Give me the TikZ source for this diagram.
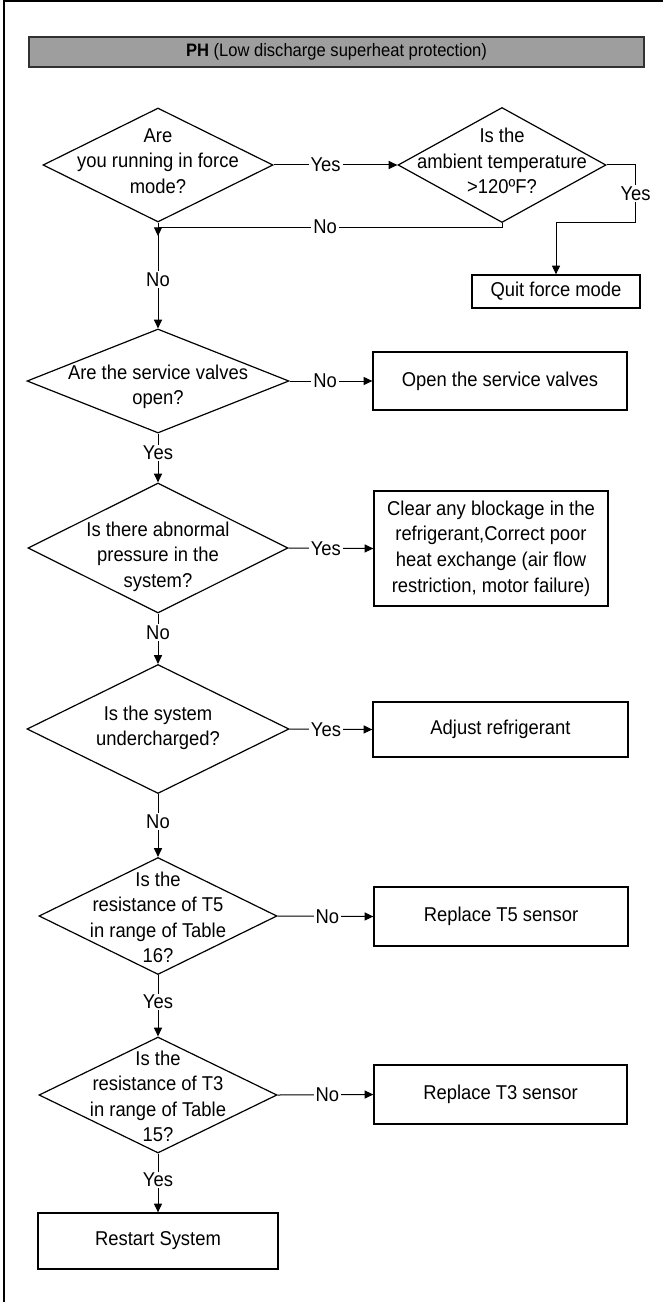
\documentclass[tikz,border=0pt]{standalone}
\usepackage{fontspec}
\setmainfont{Liberation Sans}[FakeStretch=0.92]
\usetikzlibrary{shapes.geometric,arrows.meta}
\definecolor{barfill}{RGB}{158,158,158}
\definecolor{bardraw}{RGB}{50,50,50}
\begin{document}
\begin{tikzpicture}[x=0.75pt,y=-0.75pt,
  every node/.style={font=\fontsize{15pt}{19.2pt}\selectfont, inner sep=0pt},
  dia/.style 2 args={draw,line width=0.9pt,diamond,minimum width={#1*0.75pt},minimum height={#2*0.75pt}},
  box/.style 2 args={draw,line width=1pt,rectangle,minimum width={#1*0.75pt},minimum height={#2*0.75pt},align=center},
  conn/.style={line width=0.75pt,-{Triangle[length=6.5pt,width=6pt]}},
  plain/.style={line width=0.75pt},
  lbl/.style={fill=white,inner xsep=1.5pt,inner ysep=1pt},
  dtext/.style={align=center}]

\useasboundingbox (0,0) rectangle (663,1302);
\draw[line width=1pt] (4,1302) -- (4,1) -- (663,1);

\node[draw=bardraw,fill=barfill,line width=1pt,minimum width={615*0.75pt},minimum height={30*0.75pt}] (title) at (336.5,52)
  {\fontsize{13.5pt}{16pt}\selectfont\textbf{PH} (Low discharge superheat protection)};

% decisions
\node[dia={230}{114}, label={[dtext,yshift=3pt]center:{Are\\you running in force\\mode?}}] (d1) at (158,165) {};
\node[dia={208}{115}, label={[dtext,yshift=3pt]center:{Is the\\ambient temperature\\>120ºF?}}] (d2) at (502,165) {};
\node[dia={262}{104}, label={[dtext,yshift=-4.5pt]center:{Are the service valves\\open?}}] (d3) at (158,381) {};
\node[dia={260}{130}, label={[dtext,yshift=-6.5pt]center:{Is there abnormal\\pressure in the\\system?}}] (d4) at (158,548) {};
\node[dia={262}{129}, label={[dtext,yshift=1pt]center:{Is the system\\undercharged?}}] (d5) at (158,729) {};
\node[dia={238}{117}, label={[dtext,yshift=-1pt]center:{Is the\\resistance of T5\\in range of Table\\16?}}] (d6) at (158,916) {};
\node[dia={238}{116}, label={[dtext,yshift=-1pt]center:{Is the\\resistance of T3\\in range of Table\\15?}}] (d7) at (158,1095) {};

% actions
\node[box={168}{33}] (quit) at (556,291.5) {Quit force mode};
\node[box={254}{58}] (open) at (500,381) {Open the service valves};
\node[box={234}{115}] (clear) at (491,548.5) {Clear any blockage in the\\refrigerant,Correct poor\\heat exchange (air flow\\restriction, motor failure)};
\node[box={255}{55}] (adjust) at (500.5,729.5) {Adjust refrigerant};
\node[box={254}{59}] (t5) at (501,916.5) {Replace T5 sensor};
\node[box={253}{59}] (t3) at (500.5,1094.5) {Replace T3 sensor};
\node[box={240}{56}] (restart) at (158,1241) {Restart System};

% connectors
\draw[conn] (d1.east) -- node[lbl,pos=0.42]{Yes} (d2.west);
\draw[conn] (d2.east) -- ++(29,0) -- node[lbl]{Yes} ++(0,57) -| (quit.north);
\coordinate (jn) at (158,227);
\draw[plain] (d2.south) |- node[lbl,pos=0.757]{No} (jn);
\draw[conn] (jn) -- ++(0,9);
\draw[conn] (d1.south) -- node[lbl,pos=0.54]{No} (d3.north);
\draw[conn] (d3.east) -- node[lbl,pos=0.43]{No} (open.west);
\draw[conn] (d3.south) -- node[lbl,pos=0.4]{Yes} (d4.north);
\draw[conn] (d4.east) -- node[lbl,pos=0.44]{Yes} (clear.west);
\draw[conn] (d4.south) -- node[lbl,pos=0.38]{No} (d5.north);
\draw[conn] (d5.east) -- node[lbl,pos=0.44]{Yes} (adjust.west);
\draw[conn] (d5.south) -- node[lbl,pos=0.44]{No} (d6.north);
\draw[conn] (d6.east) -- node[lbl,pos=0.52]{No} (t5.west);
\draw[conn] (d6.south) -- node[lbl,pos=0.44]{Yes} (d7.north);
\draw[conn] (d7.east) -- node[lbl,pos=0.52]{No} (t3.west);
\draw[conn] (d7.south) -- node[lbl,pos=0.45]{Yes} (restart.north);
\end{tikzpicture}
\end{document}
